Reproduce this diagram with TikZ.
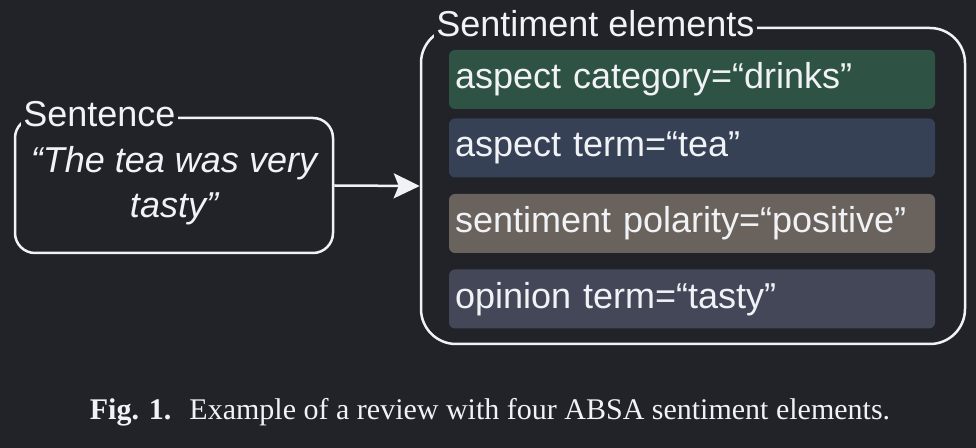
\documentclass[tikz,border=0pt]{standalone}
\usepackage{fontspec}
\setmainfont{Liberation Sans}
\newfontfamily\capfont{Liberation Serif}
\usetikzlibrary{arrows.meta}
\definecolor{bgc}{RGB}{33,35,41}
\definecolor{fgc}{RGB}{240,242,245}
\definecolor{catc}{RGB}{46,82,68}
\definecolor{aspc}{RGB}{54,65,85}
\definecolor{polc}{RGB}{106,98,93}
\definecolor{opic}{RGB}{68,71,88}
\tikzset{
    frame/.style={draw=fgc,line width=1.25pt,rounded corners=#1},
    tag/.style={fill=bgc,text=fgc,inner sep=1pt,anchor=base west,font=\fontsize{18}{22}\selectfont},
    elem/.style={fill=#1,rounded corners=3pt,text=fgc,minimum width=243pt,minimum height=29.5pt,
        inner sep=3pt,text width=237pt,align=left,font=\fontsize{18}{22}\selectfont}
}

\begin{document}
\begin{tikzpicture}[x=0.5pt,y=-0.5pt]
                \fill[bgc] (0,0) rectangle (976,448);
                \useasboundingbox (0,0) rectangle (976,448);
                \node[frame=10pt,minimum width=159pt,minimum height=67.5pt,text=fgc,align=center,
                    font=\fontsize{18}{22.5}\selectfont\itshape] (s) at (174,185.5) {“The tea was very\\tasty”};
                \node[tag] (sl) at (21,127) {Sentence};
                \node[frame=17.5pt,minimum width=272pt,minimum height=158pt] (e) at (693,186) {};
                \node[tag] (el) at (434,37) {Sentiment elements};
                \node[elem=catc] (a1) at (692,79.5) {aspect category=“drinks”};
                \node[elem=aspc] (a2) at (692,148) {aspect term=“tea”};
                \node[elem=polc] (a3) at (692,223.5) {sentiment polarity=“positive”};
                \node[elem=opic] (a4) at (692,299) {opinion term=“tasty”};
                \draw[fgc,line width=1.25pt,-{Stealth[length=13pt,width=12.5pt,inset=2.5pt]}] (s.east) -- (e.west);
                \node[text=fgc,anchor=base,font=\capfont\fontsize{15}{18}\selectfont] (cap) at (490,420)
                    {\textbf{Fig. 1.}\hspace{0.6em}Example of a review with four ABSA sentiment elements.};
\end{tikzpicture}
\end{document}
